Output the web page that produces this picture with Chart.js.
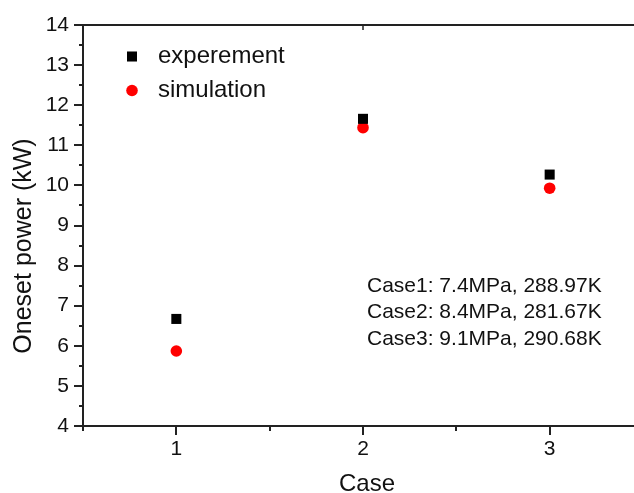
<!DOCTYPE html>
<html><head><meta charset="utf-8">
<style>
html,body{margin:0;padding:0;overflow:hidden;background:#fff;width:634px;height:493px}
canvas{display:block}
</style>
<script src="https://cdn.jsdelivr.net/npm/chart.js@4.4.0/dist/chart.umd.min.js"></script>
</head><body>
<canvas id="c" width="654" height="493"></canvas>
<script>
// ---- data ----
const cases = [1, 2, 3];
const experiment = [6.67, 11.66, 10.27];
const simulation = [5.87, 11.44, 9.93];
const seriesNames = ['experement', 'simulation'];
const yRange = [4, 14];
const xRange = [0.5, 3.5];
const notes = ['Case1: 7.4MPa, 288.97K', 'Case2: 8.4MPa, 281.67K', 'Case3: 9.1MPa, 290.68K'];
const xTitle = 'Case';
const yTitle = 'Oneset power (kW)';

const FONT = "'Liberation Sans', Arial, Helvetica, sans-serif";
const AXIS = '#222222';
const TEXT = '#111111';

const toPts = arr => cases.map((c, i) => ({x: c, y: arr[i]}));

const decor = {
  id: 'decor',
  afterDraw(chart) {
    const {ctx, chartArea: a, scales: {x, y}} = chart;
    ctx.save();
    ctx.strokeStyle = AXIS;
    ctx.lineWidth = 2;
    ctx.lineCap = 'butt';
    y.ticks.forEach(t => {
      const py = Math.round(y.getPixelForValue(t.value));
      const len = Number.isInteger(t.value) ? 9 : 4;
      ctx.beginPath(); ctx.moveTo(a.left - len, py); ctx.lineTo(a.left, py); ctx.stroke();
    });
    x.ticks.forEach(t => {
      const px = Math.round(x.getPixelForValue(t.value));
      const len = Number.isInteger(t.value) ? 9 : 5;
      ctx.beginPath(); ctx.moveTo(px, a.bottom); ctx.lineTo(px, a.bottom + len); ctx.stroke();
    });
    ctx.beginPath(); ctx.moveTo(a.left - 1, a.top); ctx.lineTo(a.right, a.top); ctx.stroke();
    const p2 = Math.round(x.getPixelForValue(2));
    ctx.lineWidth = 1.5;
    ctx.beginPath(); ctx.moveTo(p2, a.top); ctx.lineTo(p2, a.top + 5); ctx.stroke();

    chart.data.datasets.forEach((ds, i) => {
      const cx = a.left + 49, cy = a.top + 31.5 + i * 34;
      ctx.fillStyle = ds.backgroundColor;
      Chart.helpers.drawPoint(ctx, {pointStyle: ds.pointStyle, radius: ds.pointRadius, rotation: 0, borderWidth: 0}, cx, cy);
      ctx.fillStyle = TEXT;
      ctx.font = `24px ${FONT}`;
      ctx.textAlign = 'left';
      ctx.textBaseline = 'alphabetic';
      ctx.fillText(ds.label, a.left + 75, cy + 6.5);
    });

    ctx.font = `21px ${FONT}`;
    ctx.fillStyle = TEXT;
    ctx.textAlign = 'left';
    ctx.textBaseline = 'alphabetic';
    notes.forEach((s, i) => ctx.fillText(s, a.left + 284, a.top + 266.5 + i * 26.8));

    ctx.font = `24px ${FONT}`;
    ctx.textAlign = 'center';
    ctx.fillText(xTitle, (a.left + a.right) / 2 + 4, 491);
    ctx.save();
    ctx.translate(31, 246);
    ctx.rotate(-Math.PI / 2);
    ctx.font = `25px ${FONT}`;
    ctx.fillText(yTitle, 0, 0);
    ctx.restore();
    ctx.restore();
  }
};

new Chart(document.getElementById('c'), {
  type: 'scatter',
  data: {
    datasets: [
      {label: seriesNames[0], data: toPts(experiment), pointStyle: 'rect', pointRadius: 7.1,
       backgroundColor: '#000000', borderWidth: 0, showLine: false},
      {label: seriesNames[1], data: toPts(simulation), pointStyle: 'circle', pointRadius: 5.8,
       backgroundColor: '#ff0000', borderWidth: 0, showLine: false}
    ]
  },
  options: {
    responsive: false,
    animation: false,
    devicePixelRatio: 1,
    layout: {padding: {top: 25, left: 0, right: 0, bottom: 0}},
    plugins: {legend: {display: false}, tooltip: {enabled: false}},
    scales: {
      x: {
        type: 'linear', min: xRange[0], max: xRange[1],
        grid: {display: false, drawTicks: false},
        border: {display: true, color: AXIS, width: 2},
        ticks: {stepSize: 0.5, autoSkip: false, maxRotation: 0, padding: 11, color: TEXT,
                font: {family: FONT, size: 21},
                callback: v => Number.isInteger(v) && v >= 1 && v <= 3 ? String(v) : ''},
        afterFit: s => { s.height = 67; }
      },
      y: {
        min: yRange[0], max: yRange[1],
        grid: {display: false, drawTicks: false},
        border: {display: true, color: AXIS, width: 2},
        ticks: {stepSize: 0.5, autoSkip: false, padding: 14, color: TEXT,
                font: {family: FONT, size: 21},
                callback: v => Number.isInteger(v) ? String(v) : ''},
        afterFit: s => { s.width = 83; s.paddingTop = 0; s.paddingBottom = 0; }
      }
    }
  },
  plugins: [decor]
});
</script>
</body></html>
